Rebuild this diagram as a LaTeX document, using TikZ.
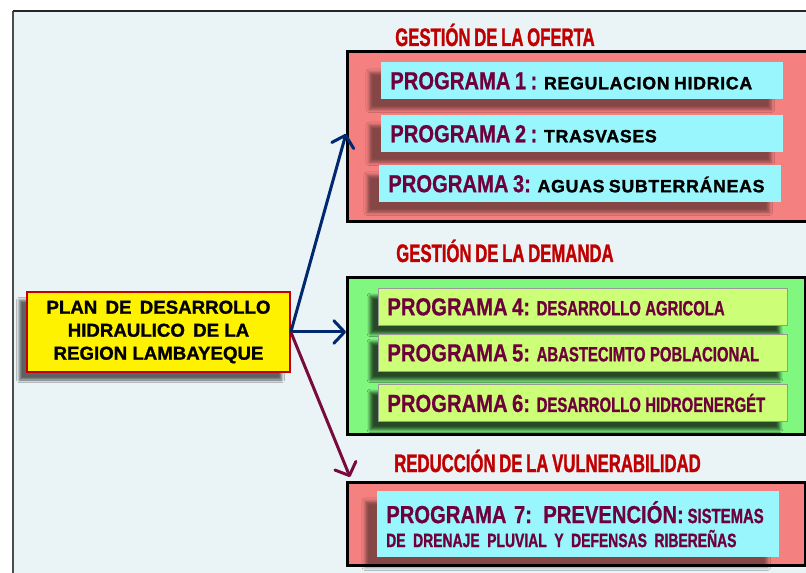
\documentclass[tikz,border=0pt]{standalone}
\usepackage{fontspec}
\setmainfont{Liberation Sans}
\newfontfamily\titlefont[FakeStretch=0.66,FakeBold=1.2,WordSpace=0.8]{Liberation Sans Bold}
\newfontfamily\descfont[FakeStretch=0.72,FakeBold=1,WordSpace=0.6]{Liberation Sans Bold}
\newfontfamily\progfont[FakeStretch=0.82,FakeBold=0.6]{Liberation Sans Bold}
\newfontfamily\widefont[LetterSpace=4,FakeBold=1.5]{Liberation Sans Bold}
\newfontfamily\planfont[FakeBold=1.2]{Liberation Sans Bold}
\usetikzlibrary{arrows.meta,shadows.blur}

\definecolor{panel}{RGB}{234,243,246}
\definecolor{salmon}{RGB}{244,128,128}
\definecolor{celeste}{RGB}{153,246,253}
\definecolor{verde}{RGB}{128,248,128}
\definecolor{lima}{RGB}{204,255,119}
\definecolor{rojo}{RGB}{192,0,0}
\definecolor{granate}{RGB}{110,0,60}
\definecolor{azul}{RGB}{0,40,110}
\definecolor{vino}{RGB}{120,10,60}

\tikzset{
  grupo/.style={draw=black, line width=2.2pt, anchor=north west, inner sep=0pt},
  titulo/.style={anchor=base west, inner sep=0pt, text=rojo,
    font=\titlefont\fontsize{19}{22}\selectfont},
  prog/.style={anchor=north west, inner xsep=6.75pt, inner ysep=0pt,
    text width=#1, align=left, minimum height=27.75pt,
    blur shadow={shadow xshift=-9pt, shadow yshift=-7.5pt, shadow opacity=45, shadow blur radius=2.5pt}},
  flecha/.style={line width=2.25pt, -{Straight Barb[length=8pt,width=17pt,round]}}
}
\newcommand{\prg}[1]{{\progfont\fontsize{18.5}{22}\selectfont\color{granate}#1}}
\newcommand{\dsc}[1]{{\descfont\fontsize{15.5}{18}\selectfont\color{granate}#1}}
\newcommand{\dscp}[1]{{\descfont\fontsize{14.5}{18}\selectfont\color{granate}#1}}
\newcommand{\wde}[1]{{\widefont\fontsize{13.3}{16}\selectfont#1}}

\begin{document}
\begin{tikzpicture}[x=0.75pt, y=-0.75pt]
  \useasboundingbox (0, 0) rectangle (806, 573);
  \fill[panel] (13, 11) rectangle (812, 580);
  \draw[gray!60!black, line width=1.5pt] (13, 580) -- (13, 11);
  \draw[black!85, line width=1.2pt] (13, 11) -- (812, 11);

  \node[grupo, fill=salmon, minimum width=348pt, minimum height=127.5pt] (oferta) at (346, 50) {};
  \node[grupo, fill=verde, minimum width=343.5pt, minimum height=117.75pt] (demanda) at (346, 276) {};
  \node[grupo, fill=salmon, minimum width=343.5pt, minimum height=62.25pt] (vuln) at (346, 481) {};

  \node[titulo] (t1) at (395, 46) {GESTIÓN DE LA OFERTA};
  \node[titulo] (t2) at (396, 262) {GESTIÓN DE LA DEMANDA};
  \node[titulo] (t3) at (394, 472) {REDUCCIÓN DE LA VULNERABILIDAD};

  \node[prog=288pt, fill=celeste] (p1) at (381, 62) {\prg{PROGRAMA 1 :} \wde{REGULACION\ HIDRICA}};
  \node[prog=288pt, fill=celeste] (p2) at (381, 115) {\prg{PROGRAMA 2 :} \wde{TRASVASES}};
  \node[prog=288pt, fill=celeste] (p3) at (379, 165) {\prg{PROGRAMA 3:} \wde{AGUAS\ SUBTERRÁNEAS}};

  \node[prog=293.25pt, fill=lima, draw=gray!80, line width=0.6pt,
    blur shadow={shadow xshift=-6pt, shadow yshift=-6pt}] (p4) at (378, 288) {\prg{PROGRAMA 4:} \dsc{DESARROLLO AGRICOLA}};
  \node[prog=293.25pt, fill=lima, draw=gray!80, line width=0.6pt,
    blur shadow={shadow xshift=-6pt, shadow yshift=-6pt}] (p5) at (378, 334) {\prg{PROGRAMA 5:} \dsc{ABASTECIMTO POBLACIONAL}};
  \node[prog=293.25pt, fill=lima, draw=gray!80, line width=0.6pt,
    blur shadow={shadow xshift=-6pt, shadow yshift=-6pt}] (p6) at (378, 384) {\prg{PROGRAMA 6:} \dsc{DESARROLLO HIDROENERGÉT}};

  \node[prog=288pt, fill=celeste, minimum height=49.5pt, font=\fontsize{17}{18}\selectfont] (p7) at (377, 491)
    {\prg{PROGRAMA 7: PREVENCIÓN:}\,\dsc{SISTEMAS}\\\dscp{DE DRENAJE PLUVIAL Y DEFENSAS RIBEREÑAS}\\[-5pt]};

  \node[draw=rojo, line width=1.5pt, fill=yellow, minimum width=197pt, minimum height=60pt,
    align=center, inner sep=0pt, font=\planfont\fontsize{14}{17.25}\selectfont,
    blur shadow={shadow xshift=-6pt, shadow yshift=-6pt, shadow opacity=60, shadow blur radius=2pt}] (plan) at (158.5, 332)
    {PLAN\, DE\, DESARROLLO\\HIDRAULICO\, DE LA\\REGION LAMBAYEQUE};

  \draw[flecha, azul] (plan.east) -- (oferta.west |- p2.west);
  \draw[flecha, azul] (plan.east) -- (plan.east -| demanda.west);
  \draw[flecha, vino] (plan.east) -- ([shift={(4, -4)}]vuln.north west);
\end{tikzpicture}
\end{document}
